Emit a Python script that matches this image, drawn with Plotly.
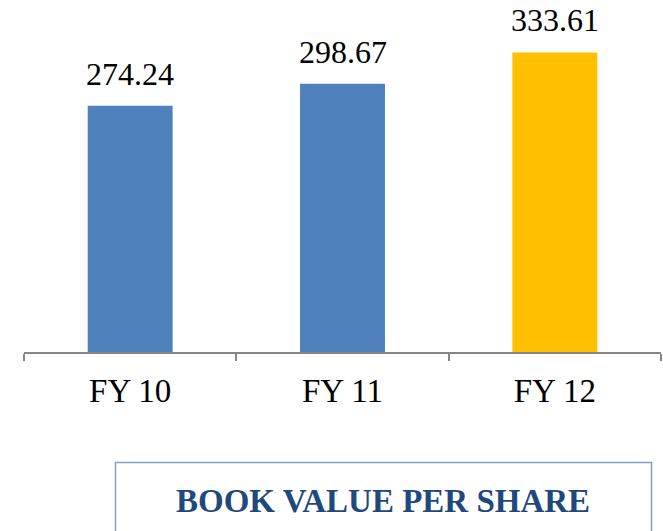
import plotly.graph_objects as go

categories = ["FY 10", "FY 11", "FY 12"]
values = [274.24, 298.67, 333.61]
bar_colors = ["#4F81BD", "#4F81BD", "#FFC000"]
value_labels = ["274.24", "298.67", "333.61"]
title_text = "BOOK VALUE PER SHARE"

W, H = 663, 531
ml, mr, mt, mb = 24, 2, 0, 179
pw = W - ml - mr
ph = H - mt - mb

def px2paper_x(px):
    return (px - ml) / pw

def py2paper_y(py):
    return (H - mb - py) / ph

fig = go.Figure()
fig.add_trace(go.Bar(
    x=categories, y=values, marker=dict(color=bar_colors, line=dict(width=0)),
    width=0.4, hoverinfo="skip",
))

for c, v, t in zip(categories, values, value_labels):
    fig.add_annotation(x=c, y=v, text=t, showarrow=False, yanchor="bottom",
                       yshift=12, font=dict(family="Liberation Serif", size=32, color="#000000"))

fig.add_shape(type="rect", xref="paper", yref="paper",
              x0=px2paper_x(115.5), x1=px2paper_x(651.5),
              y0=py2paper_y(462.5), y1=py2paper_y(560),
              line=dict(color="#7F9FCF", width=1.5), fillcolor="rgba(0,0,0,0)")
fig.add_annotation(xref="paper", yref="paper", x=px2paper_x(383), y=py2paper_y(501),
                   text="<b>" + title_text + "</b>", showarrow=False,
                   xanchor="center", yanchor="middle",
                   font=dict(family="Liberation Serif", size=33, color="#1F497D"))

fig.update_layout(
    width=W, height=H, margin=dict(l=ml, r=mr, t=mt, b=mb, pad=0),
    paper_bgcolor="white", plot_bgcolor="white", showlegend=False,
    xaxis=dict(type="category", range=[-0.5, 2.5], showline=True, linecolor="#868686",
               linewidth=2, ticks="outside", tickson="boundaries", ticklen=7,
               tickwidth=2, tickcolor="#868686", showgrid=False, zeroline=False,
               tickfont=dict(family="Liberation Serif", size=33, color="#000000"),
               ticklabelstandoff=8),
    yaxis=dict(range=[0, 392], visible=False, showgrid=False, zeroline=False),
)

fig.write_html("out.html", config={"displayModeBar": False},
               post_script="document.body.style.margin='0';document.body.style.overflow='hidden';")
